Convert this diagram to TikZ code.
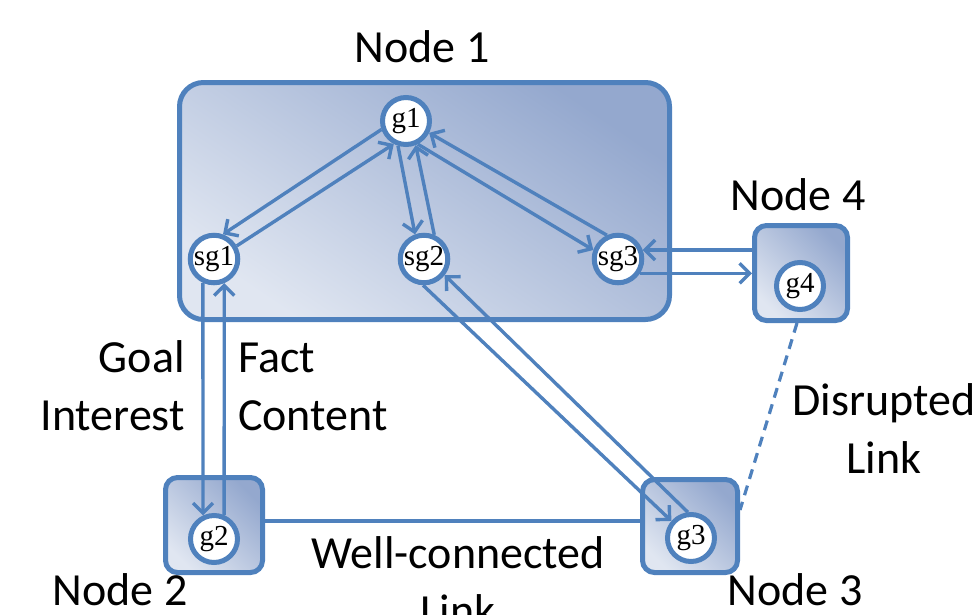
\documentclass[tikz,border=0pt]{standalone}
\usepackage{fontspec}
\setmainfont{Carlito}
\newfontfamily\goalfont{Liberation Serif}
\usetikzlibrary{arrows.meta,calc}
\definecolor{linkblue}{RGB}{79,129,189}
\definecolor{boxlight}{RGB}{224,230,241}
\definecolor{boxdark}{RGB}{148,168,206}
\tikzset{
  box/.style={draw=linkblue, line width=5pt, shading=axis, top color=boxdark,
    bottom color=boxlight, shading angle=-45, inner sep=0pt},
  goal/.style={circle, draw=linkblue, line width=5pt, fill=white,
    minimum size=47pt, inner sep=0pt, font=\goalfont\fontsize{29}{29}\selectfont},
  arr/.style={draw=linkblue, line width=3.4pt,
    -{Straight Barb[length=10pt, width=20pt]}},
  link/.style={draw=linkblue, line width=3.2pt},
  txt/.style={font=\fontsize{46}{58}\selectfont, text=black, inner sep=0pt}
}
\begin{document}
\begin{tikzpicture}[x=1pt,y=-1pt]
\useasboundingbox (0,0) rectangle (977,614);

% containers
\node[box, shading angle=-34, rounded corners=24pt, minimum width=490pt, minimum height=237pt] (n1) at (424.5,201) {};
\node[box, rounded corners=12pt, minimum width=93pt, minimum height=95pt] (n4) at (801,273) {};
\node[box, rounded corners=12pt, minimum width=95pt, minimum height=93pt] (n3) at (690,526) {};
\node[box, rounded corners=12pt, minimum width=97pt, minimum height=95pt] (n2) at (214,525) {};

% goals
\node[goal] (g1) at (406,121) {g1};
\node[goal] (sg1) at (214,259) {sg1};
\node[goal] (sg2) at (424,259) {sg2};
\node[goal] (sg3) at (618,259) {sg3};
\node[goal] (g4) at (800,286) {g4};
\node[goal] (g3) at (691,538) {g3};
\node[goal] (g2) at (214,539) {g2};

% goal decomposition inside node 1
\draw[arr] (g1.199) -- (sg1.70);
\draw[arr] (sg1.30) -- (g1.242);
\draw[arr] (g1.252) -- (sg2.110);
\draw[arr] (sg2.67) -- (g1.292);
\draw[arr] (g1.297) -- (sg3.160);
\draw[arr] (sg3.115) -- (g1.333);

% delegation to other nodes
\draw[arr] (sg1.245) -- (g2.115);
\draw[arr] (g2.67) -- (sg1.293);
\draw[arr] (sg2.268) -- (g3.139);
\draw[arr] (g3.97) -- (sg2.322);
\draw[arr] (sg3.20 -| n4.west) -- (sg3.20);
\draw[arr] (sg3.-33) -- (sg3.-33 -| n4.west);

% links between nodes
\draw[link] ([yshift=4pt]n2.east) -- ([yshift=4pt]n2.east -| n3.west);
\draw[link, dash pattern=on 10pt off 7pt] ([xshift=-4pt]n4.south) -- ([yshift=16pt]n3.east);

% labels (multi-line labels are placed by the baseline of their last line)
\node[txt, anchor=base] (l1) at (422,62) {Node 1};
\node[txt, anchor=base] (l4) at (798,210) {Node 4};
\node[txt, anchor=base] (l2) at (120,605) {Node 2};
\node[txt, anchor=base] (l3) at (795,605) {Node 3};
\node[txt, anchor=base east, align=right] (lgoal) at (185,430) {Goal\\Interest};
\node[txt, anchor=base west, align=left] (lfact) at (238,430) {Fact\\Content};
\node[txt, anchor=base, align=center] (ldis) at (884,473) {Disrupted\\Link};
\node[txt, anchor=base, align=center] (lwell) at (458,626) {Well-connected\\Link};
\end{tikzpicture}
\end{document}
